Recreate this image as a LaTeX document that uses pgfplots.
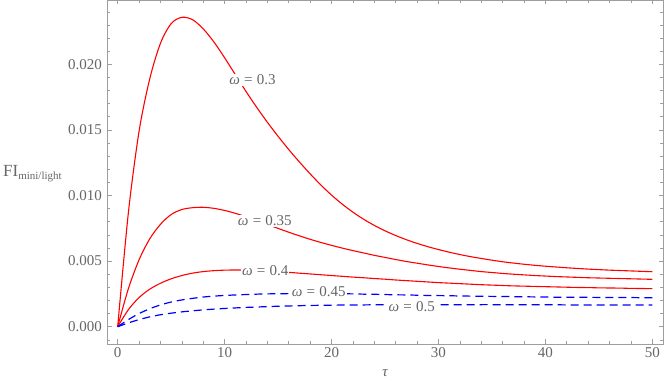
\documentclass[border=0pt]{standalone}
\usepackage{pgfplots}
\usepackage{pgfplotstable}
\pgfplotsset{compat=1.18}
\usepackage{fontspec}
\setmainfont{Liberation Serif}
\definecolor{framegray}{gray}{0.62}
\definecolor{labgray}{gray}{0.40}
\newcommand{\lab}[1]{{\itshape ω}\hspace{0.28em}=\hspace{0.28em}#1}
\pgfplotstableread{
tau  w30      w35      w40      w45      w50
0    0        0        0        0        0
1    0.0087   0.0029   0.0013   0.00054  0.00029
2    0.0149   0.0051   0.00222  0.00100  0.00054
3    0.0189   0.0067   0.00286  0.00137  0.00075
4    0.0216   0.0078   0.00331  0.00166  0.00091
5    0.0231   0.00855  0.00365  0.00188  0.00103
6    0.02358  0.00893  0.00390  0.00204  0.00113
7    0.0234   0.00907  0.00408  0.00216  0.00121
8    0.0227   0.0091   0.00420  0.00226  0.00128
9    0.0217   0.00902  0.00427  0.00233  0.00134
10   0.0205   0.00886  0.00431  0.00238  0.00139
11   0.01921  0.00864  0.00432  0.00242  0.00143
12   0.01793  0.00838  0.00431  0.00245  0.00147
13   0.01672  0.00809  0.00428  0.00248  0.00150
14   0.01558  0.00779  0.00424  0.00250  0.00153
15   0.01451  0.00749  0.00419  0.00251  0.00156
16   0.01350  0.00720  0.00414  0.00252  0.00158
17   0.01255  0.00692  0.00408  0.00253  0.00160
18   0.01165  0.00666  0.00402  0.00253  0.00162
19   0.01080  0.00642  0.00396  0.00253  0.00163
20   0.01003  0.00620  0.00390  0.00252  0.00164
21   0.00934  0.00599  0.00384  0.00251  0.00165
22   0.00873  0.00580  0.00378  0.00250  0.00166
23   0.00819  0.00562  0.00373  0.00248  0.00166
24   0.00772  0.00544  0.00367  0.00247  0.00167
25   0.00731  0.00528  0.00362  0.00245  0.00167
26   0.00695  0.00512  0.00356  0.00243  0.00168
27   0.00663  0.00497  0.00351  0.00242  0.00168
28   0.00635  0.00484  0.00346  0.00240  0.00168
29   0.00610  0.00471  0.00341  0.00238  0.00168
30   0.00588  0.00459  0.00336  0.00237  0.00168
31   0.00568  0.00448  0.00332  0.00236  0.00168
32   0.00550  0.00438  0.00328  0.00234  0.00168
33   0.00534  0.00429  0.00324  0.00233  0.00168
34   0.00520  0.00420  0.00320  0.00232  0.00168
35   0.00507  0.00413  0.00317  0.00231  0.00168
36   0.00495  0.00406  0.00314  0.00230  0.00167
37   0.00485  0.00400  0.00311  0.00229  0.00167
38   0.00476  0.00395  0.00309  0.00228  0.00167
39   0.00468  0.00390  0.00307  0.00227  0.00167
40   0.00461  0.00386  0.00305  0.00226  0.00167
41   0.00455  0.00382  0.00303  0.00225  0.00167
42   0.00449  0.00379  0.00301  0.00225  0.00166
43   0.00444  0.00376  0.00299  0.00224  0.00166
44   0.00439  0.00373  0.00298  0.00224  0.00166
45   0.00435  0.00371  0.00296  0.00223  0.00166
46   0.00431  0.00369  0.00295  0.00223  0.00166
47   0.00428  0.00367  0.00294  0.00222  0.00165
48   0.00425  0.00365  0.00292  0.00222  0.00165
49   0.00422  0.00363  0.00291  0.00221  0.00165
50   0.00419  0.00361  0.00290  0.00221  0.00165
}\fitable
\begin{document}
\begin{tikzpicture}
\begin{axis}[
  scale only axis, width=556pt, height=344pt,
  xmin=-1, xmax=51, ymin=-0.001319, ymax=0.0249,
  axis line style={framegray, line width=0.8pt},
  every tick/.style={framegray, line width=0.6pt},
  major tick length=4.5pt, minor tick length=2.6pt,
  tick pos=both, tick align=inside,
  xtick={0,10,20,30,40,50}, xticklabels={0,10,20,30,40,50},
  minor xtick={2,4,6,8,12,14,16,18,22,24,26,28,32,34,36,38,42,44,46,48},
  ytick={0,0.005,0.01,0.015,0.02},
  yticklabels={0.000,0.005,0.010,0.015,0.020},
  minor ytick={-0.001,0.001,0.002,0.003,0.004,0.006,0.007,0.008,0.009,0.011,0.012,0.013,0.014,0.016,0.017,0.018,0.019,0.021,0.022,0.023,0.024},
  scaled y ticks=false,
  tick label style={font=\fontsize{15}{18}\selectfont, text=labgray, inner sep=1pt},
  xticklabel style={yshift=-2pt},
  yticklabel style={xshift=-4pt},
  every axis plot/.append style={smooth, tension=0.5},
]
\addplot[red, line width=1.1pt] table[x=tau, y=w30] {\fitable};
\addplot[red, line width=1.1pt] table[x=tau, y=w35] {\fitable};
\addplot[red, line width=1.1pt] table[x=tau, y=w40] {\fitable};
\addplot[blue, line width=1.2pt, dash pattern=on 8pt off 5pt] table[x=tau, y=w45] {\fitable};
\addplot[blue, line width=1.2pt, dash pattern=on 8pt off 5pt] table[x=tau, y=w50] {\fitable};
\tikzset{cl/.style={fill=white, inner sep=1pt, text=labgray, font=\fontsize{15}{18}\selectfont}}
\node[cl] at (axis cs:12.6,0.0188) {\lab{0.3}};
\node[cl] at (axis cs:13.76,0.00808) {\lab{0.35}};
\node[cl] at (axis cs:13.8,0.00427) {\lab{0.4}};
\node[cl] at (axis cs:18.8,0.00264) {\lab{0.45}};
\node[cl] at (axis cs:27.5,0.00152) {\lab{0.5}};
\end{axis}
\node[anchor=base, text=labgray, font=\fontsize{15}{18}\selectfont, inner sep=0pt] at ([yshift=-33pt]current axis.south) {\itshape τ};
\node[anchor=base west, text=labgray, inner sep=0pt] at ([xshift=-104pt, yshift=-5pt]current axis.west) {\fontsize{17}{20}\selectfont FI\raisebox{-2.5pt}{\fontsize{11}{13}\selectfont mini/light}};
\pgfresetboundingbox
\path ([xshift=-107pt,yshift=-41pt]current axis.south west) rectangle ([xshift=1pt]current axis.north east);
\end{tikzpicture}
\end{document}
